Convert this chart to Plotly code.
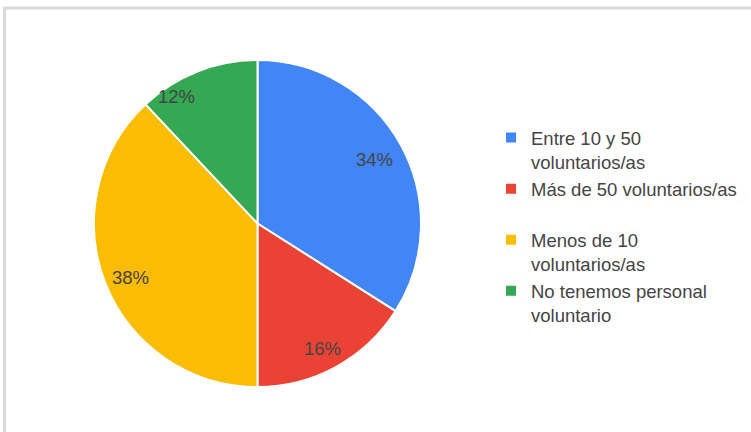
import math
import plotly.graph_objects as go

# Volunteer headcount categories and their share of respondents
labels = [
    "Entre 10 y 50<br>voluntarios/as",
    "Más de 50 voluntarios/as<br> ",
    "Menos de 10<br>voluntarios/as",
    "No tenemos personal<br>voluntario",
]
values = [34, 16, 38, 12]
colors = ["#4285f4", "#ea4335", "#fbbc04", "#34a853"]

W, H = 751, 432
cx, cy, r = 257.5, 223.5, 163.5  # pie centre and radius in pixels

# where each percentage sits: fraction along the slice's arc, fraction of radius
label_arc_pos = [0.50, 0.52, 0.49, 0.25]
label_rad_pos = [0.815, 0.86, 0.845, 0.92]

FONT = "Liberation Sans, Arial"
TEXT_COLOR = "#444444"

fig = go.Figure(
    go.Pie(
        labels=labels,
        values=values,
        sort=False,
        direction="clockwise",
        rotation=0,
        marker=dict(colors=colors, line=dict(color="white", width=2)),
        textinfo="none",
        hoverinfo="label+percent",
        domain=dict(
            x=[(cx - r) / W, (cx + r) / W],
            y=[(H - cy - r) / H, (H - cy + r) / H],
        ),
    )
)

# percentage labels placed along each slice, derived from the values
total = sum(values)
annotations = []
start = 0.0
for v, fa, fr in zip(values, label_arc_pos, label_rad_pos):
    frac = v / total
    ang = 2 * math.pi * (start + frac * fa)  # clockwise from 12 o'clock
    px = cx + fr * r * math.sin(ang)
    py = cy - fr * r * math.cos(ang)
    annotations.append(
        dict(
            x=px / W,
            y=(H - py) / H,
            xref="paper",
            yref="paper",
            text=f"{round(frac * 100)}%",
            showarrow=False,
            xanchor="center",
            yanchor="middle",
            font=dict(family=FONT, size=18.5, color=TEXT_COLOR),
        )
    )
    start += frac

fig.update_layout(
    width=W,
    height=H,
    margin=dict(l=0, r=0, t=0, b=0),
    paper_bgcolor="white",
    font=dict(family=FONT, color=TEXT_COLOR),
    showlegend=True,
    annotations=annotations,
    legend=dict(
        x=491 / W,
        xanchor="left",
        y=(H - 119) / H,
        yanchor="top",
        valign="top",
        font=dict(family=FONT, size=18.5, color=TEXT_COLOR),
        bgcolor="rgba(0,0,0,0)",
    ),
    shapes=[
        # light grey frame along the top and left edges
        dict(
            type="rect",
            xref="paper",
            yref="paper",
            x0=4.5 / W,
            x1=1.05,
            y0=-0.05,
            y1=(H - 8) / H,
            line=dict(color="#d9d9d9", width=3),
            fillcolor="rgba(0,0,0,0)",
            layer="below",
        )
    ],
)

fig.write_html("out.html")
